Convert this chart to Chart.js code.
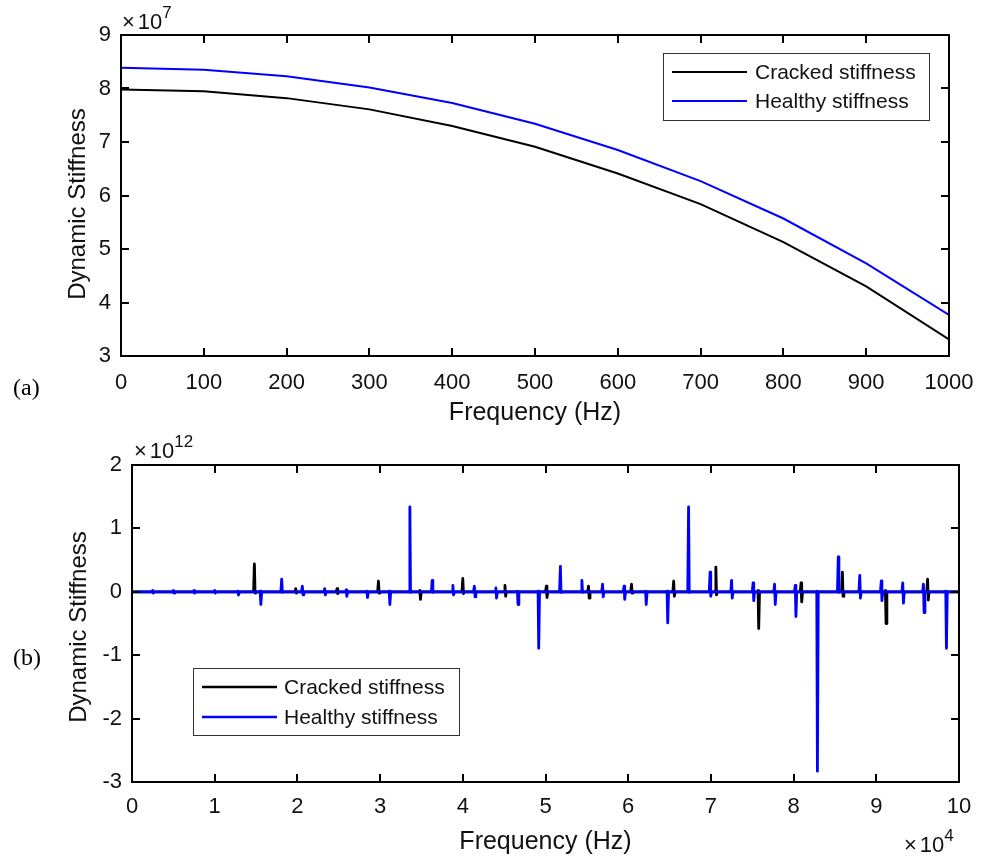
<!DOCTYPE html>
<html>
<head>
<meta charset="utf-8">
<script src="https://cdn.jsdelivr.net/npm/chart.js@4.4.1/dist/chart.umd.min.js"></script>
<style>
  body { margin: 0; background: #fff; width: 991px; height: 859px; position: relative; overflow: hidden; font-family: Arial, "Liberation Sans", sans-serif; }
  canvas { position: absolute; left: 0; }
  #chartA { top: 0; }
  #chartB { top: 430px; }
  .panel { position: absolute; font-family: "Liberation Serif", "Times New Roman", serif; font-size: 24px; line-height: 24px; color: #000; }
  .expo { position: absolute; font-size: 22px; line-height: 22px; white-space: nowrap; color: #111; }
  .expo b { font-weight: normal; margin-right: 3px; }
  .expo span { position: relative; font-size: 17px; top: -11px; }
</style>
</head>
<body>
<canvas id="chartA" width="991" height="430"></canvas>
<canvas id="chartB" width="991" height="429"></canvas>
<div class="panel" style="left:13px; top:375px;">(a)</div>
<div class="panel" style="left:13px; top:645px;">(b)</div>
<div class="expo" style="left:122px; top:11px;"><b>&times;</b>10<span>7</span></div>
<div class="expo" style="left:134px; top:440px;"><b>&times;</b>10<span>12</span></div>
<div class="expo" style="left:904px; top:834px;"><b>&times;</b>10<span>4</span></div>
<script>
// (a) basse fréquence, 0-1000 Hz, rigidité en 1e7
const freqA = [0, 100, 200, 300, 400, 500, 600, 700, 800, 900, 1000];
const crackedA = [7.98, 7.95, 7.82, 7.61, 7.30, 6.91, 6.41, 5.84, 5.13, 4.30, 3.31];
const healthyA = [8.39, 8.35, 8.23, 8.02, 7.73, 7.34, 6.85, 6.27, 5.57, 4.73, 3.77];

// (b) 0-1e5 Hz (en 1e4 Hz), pics en 1e12 : haut puis bas de chaque pic
const crackedFreq = [1.48, 1.98, 2.48, 2.98, 3.48, 4.00, 4.51, 5.01, 5.52, 6.04, 6.55, 7.06, 7.57, 8.09, 8.59, 9.11, 9.62];
const crackedUp = [0.44, 0.05, 0.05, 0.17, 0.02, 0.21, 0.10, 0.09, 0.09, 0.12, 0.17, 0.39, 0.02, 0.14, 0.31, 0.02, 0.20];
const crackedDown = [-0.02, -0.02, -0.03, -0.02, -0.12, -0.03, -0.07, -0.09, -0.10, -0.02, -0.07, -0.05, -0.58, -0.16, -0.07, -0.50, -0.13];

const healthyFreq = [0.25, 0.50, 0.75, 1.00, 1.28, 1.55, 1.81, 2.06, 2.33, 2.59, 2.84, 3.11, 3.36, 3.63, 3.88, 4.14, 4.40, 4.66, 4.91,
  5.18, 5.44, 5.69, 5.95, 6.21, 6.47, 6.73, 6.99, 7.25, 7.51, 7.77, 8.02, 8.28, 8.54, 8.80, 9.06, 9.32, 9.57, 9.84];
const healthyUp = [0.02, 0.02, 0.02, 0.02, 0.01, 0.01, 0.20, 0.09, 0.05, 0.03, 0.01, 0.01, 1.34, 0.18, 0.10, 0.09, 0.06, 0.01, 0.01,
  0.40, 0.18, 0.12, 0.09, 0.01, 0.01, 1.34, 0.31, 0.18, 0.14, 0.12, 0.10, 0.01, 0.55, 0.26, 0.17, 0.14, 0.12, 0.01];
const healthyDown = [-0.02, -0.02, -0.02, -0.02, -0.05, -0.20, -0.01, -0.05, -0.05, -0.07, -0.09, -0.20, -0.01, -0.01, -0.05, -0.08, -0.10, -0.20, -0.89,
  -0.01, -0.01, -0.08, -0.12, -0.20, -0.49, -0.01, -0.07, -0.10, -0.14, -0.20, -0.39, -2.83, -0.01, -0.10, -0.14, -0.18, -0.33, -0.89];

const legendLabels = ['Cracked stiffness', 'Healthy stiffness'];
const yTitle = 'Dynamic Stiffness';
const xTitle = 'Frequency (Hz)';
const TXT = '#111';
const FONT = 'Arial, "Liberation Sans", sans-serif';

// courbe plate à 0 avec un pic (haut/bas) à chaque fréquence
function spikeSeries(freq, up, down) {
  const pts = [{x: 0, y: 0}];
  freq.forEach((f, i) => {
    pts.push({x: f - 0.01, y: 0}, {x: f, y: up[i]}, {x: f + 0.008, y: down[i]}, {x: f + 0.018, y: 0});
  });
  pts.push({x: 10, y: 0});
  return pts;
}

// cadre + graduations vers l'intérieur, style matlab
const framePlugin = {
  id: 'frame',
  afterDatasetsDraw(chart) {
    const {ctx, chartArea: a, scales: {x, y}} = chart;
    ctx.save();
    ctx.strokeStyle = '#000';
    ctx.lineWidth = 2;
    ctx.beginPath();
    x.ticks.forEach(t => {
      const px = Math.round(x.getPixelForValue(t.value));
      ctx.moveTo(px, a.bottom); ctx.lineTo(px, a.bottom - 8);
      ctx.moveTo(px, a.top); ctx.lineTo(px, a.top + 8);
    });
    y.ticks.forEach(t => {
      const py = Math.round(y.getPixelForValue(t.value));
      ctx.moveTo(a.left, py); ctx.lineTo(a.left + 8, py);
      ctx.moveTo(a.right, py); ctx.lineTo(a.right - 8, py);
    });
    ctx.stroke();
    ctx.strokeRect(a.left, a.top, a.right - a.left, a.bottom - a.top);
    ctx.restore();
  }
};

// légende encadrée + titre vertical
const boxLegend = {
  id: 'boxLegend',
  afterDraw(chart, args, opts) {
    const {ctx} = chart;
    const b = opts.box;
    ctx.save();
    ctx.fillStyle = '#fff';
    ctx.fillRect(b[0], b[1], b[2], b[3]);
    ctx.strokeStyle = '#333';
    ctx.lineWidth = 1;
    ctx.strokeRect(b[0] + 0.5, b[1] + 0.5, b[2], b[3]);
    ctx.font = '21px ' + FONT;
    ctx.textBaseline = 'middle';
    chart.data.datasets.forEach((ds, i) => {
      const ly = opts.rows[i];
      ctx.strokeStyle = ds.borderColor;
      ctx.lineWidth = opts.lineWidth;
      ctx.beginPath();
      ctx.moveTo(opts.x0, ly); ctx.lineTo(opts.x1, ly);
      ctx.stroke();
      ctx.fillStyle = TXT;
      ctx.fillText(legendLabels[i], opts.tx, ly + 1);
    });
    // titre de l'axe y
    ctx.translate(opts.titleX, opts.titleY);
    ctx.rotate(-Math.PI / 2);
    ctx.font = '24px ' + FONT;
    ctx.textAlign = 'center';
    ctx.fillStyle = TXT;
    ctx.fillText(yTitle, 0, 0);
    ctx.restore();
  }
};

function axisOpts(min, max, step, padding, fitSize, horizontal, titlePad) {
  return {
    type: 'linear', min, max,
    ticks: { stepSize: step, color: TXT, font: {size: 22, family: FONT}, padding, autoSkip: false, maxRotation: 0, callback: v => String(v) },
    grid: { display: false, drawTicks: false },
    border: { display: false },
    title: { display: horizontal, text: xTitle, color: TXT, font: {size: 25, family: FONT}, padding: titlePad },
    afterFit(scale) { if (horizontal) scale.height = fitSize; else scale.width = fitSize; }
  };
}

new Chart(document.getElementById('chartA'), {
  type: 'line',
  data: {
    datasets: [
      { label: legendLabels[0], data: crackedA.map((v, i) => ({x: freqA[i], y: v})), borderColor: '#000', borderWidth: 2, pointRadius: 0, tension: 0 },
      { label: legendLabels[1], data: healthyA.map((v, i) => ({x: freqA[i], y: v})), borderColor: '#0000ff', borderWidth: 2, pointRadius: 0, tension: 0 }
    ]
  },
  options: {
    responsive: false, animation: false,
    layout: { padding: {top: 35, right: 42, left: 0, bottom: 0} },
    scales: {
      x: axisOpts(0, 1000, 100, 14, 74, true, {bottom: 2}),
      y: axisOpts(3, 9, 1, 10, 121, false, {top: 0})
    },
    plugins: {
      legend: { display: false }, tooltip: { enabled: false },
      boxLegend: { box: [663, 53, 266, 67], rows: [72, 101], x0: 672, x1: 747, tx: 755, lineWidth: 2, titleX: 78, titleY: 204 }
    }
  },
  plugins: [framePlugin, boxLegend]
});

new Chart(document.getElementById('chartB'), {
  type: 'line',
  data: {
    datasets: [
      { label: legendLabels[0], data: spikeSeries(crackedFreq, crackedUp, crackedDown), borderColor: '#000', borderWidth: 2.8, pointRadius: 0, tension: 0, borderJoinStyle: 'round', order: 2 },
      { label: legendLabels[1], data: spikeSeries(healthyFreq, healthyUp, healthyDown), borderColor: '#0000ff', borderWidth: 2.8, pointRadius: 0, tension: 0, borderJoinStyle: 'round', order: 1 }
    ]
  },
  options: {
    responsive: false, animation: false,
    layout: { padding: {top: 35, right: 32, left: 0, bottom: 0} },
    scales: {
      x: axisOpts(0, 10, 1, 11.5, 77, true, {bottom: 2}),
      y: axisOpts(-3, 2, 1, 10, 132, false, {top: 0})
    },
    plugins: {
      legend: { display: false }, tooltip: { enabled: false },
      boxLegend: { box: [193, 238, 266, 67], rows: [257, 287], x0: 202, x1: 277, tx: 284, lineWidth: 2.5, titleX: 79, titleY: 197 }
    }
  },
  plugins: [framePlugin, boxLegend]
});
</script>
</body>
</html>
